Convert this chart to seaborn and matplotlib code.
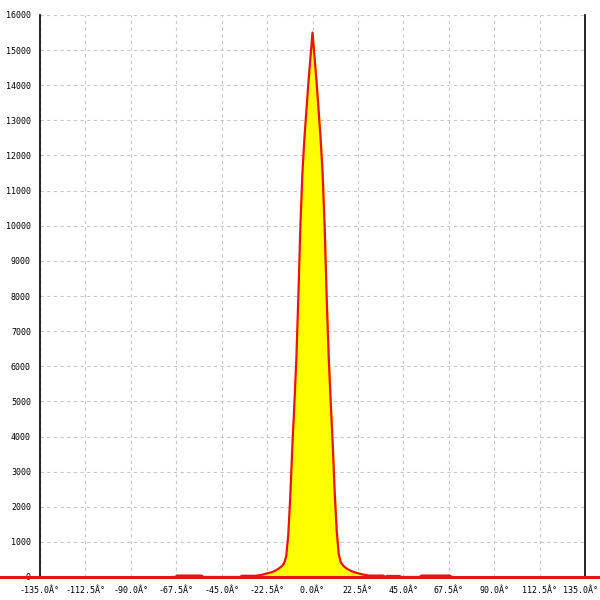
import numpy as np
import pandas as pd
import matplotlib
matplotlib.use("Agg")
import matplotlib.pyplot as plt
import matplotlib.transforms as mtransforms
import seaborn as sns

# angle bins (degrees) and counts
angles = list(range(-70, 71))
counts = (
    [0, 0, 0]                                   # -70..-68
    + [40] * 13                                 # -67..-55
    + [0] * 19                                  # -54..-36
    + [35] * 8                                  # -35..-28
    + [45, 55, 65, 80, 95, 110, 125, 140, 165, 195, 230, 270, 320, 400,
       600, 1200, 2300, 3700, 4900, 6200, 8000, 10000, 11500, 12500,
       13300, 14100, 14800]                     # -27..-1
    + [15500]                                   # 0
    + [14800, 14100, 13300, 12500, 11500, 10000, 8000, 6300, 5000, 3800,
       2400, 1300, 650, 420, 340, 280, 240, 205, 175, 150, 130, 115, 100,
       85, 70, 60, 50]                          # 1..27
    + [40] * 8                                  # 28..35
    + [0]                                       # 36
    + [30] * 7                                  # 37..43
    + [0] * 10                                  # 44..53
    + [40] * 15                                 # 54..68
    + [0, 0]                                    # 69..70
)
assert len(angles) == len(counts)

xticks = [-135.0, -112.5, -90.0, -67.5, -45.0, -22.5, 0.0, 22.5, 45.0,
          67.5, 90.0, 112.5, 135.0]
yticks = list(range(0, 16001, 1000))

df = pd.DataFrame({"angle": angles, "count": counts})

sns.set_style("white")
plt.rcParams['font.family'] = ['DejaVu Sans Mono']

fig = plt.figure(figsize=(6, 6), dpi=100)
ax = fig.add_axes([40 / 600, 23 / 600, 545 / 600, 562 / 600])

ax.fill_between(df["angle"], df["count"], color="#ffff00", zorder=2)
sns.lineplot(data=df, x="angle", y="count", color="#ee1111", lw=1.6,
             ax=ax, zorder=3)

# zero line running across the whole figure width
trans = mtransforms.blended_transform_factory(ax.transAxes, ax.transData)
ax.plot([-0.08, 1.03], [0, 0], color="#ee1111", lw=2.2, transform=trans,
        clip_on=False, zorder=4)

ax.set_xlim(-135, 135)
ax.set_ylim(0, 16000)
ax.set_xticks(xticks)
ax.set_xticklabels([f"{t:.1f}Â°" for t in xticks])
ax.set_yticks(yticks)
ax.set_yticklabels([str(t) for t in yticks])
ax.tick_params(direction="inout", length=9, width=1, labelsize=6,
               colors="black", pad=2)
ax.set_xlabel("")
ax.set_ylabel("")

# nudge the last x label so it stays inside the figure
last = ax.get_xticklabels()[-1]
last.set_transform(last.get_transform() +
                   mtransforms.ScaledTranslation(-4 / 100, 0, fig.dpi_scale_trans))

ax.grid(True, color="#c8c8c8", linestyle=(0, (3, 3)), lw=0.8, zorder=0)
for s in ["top", "bottom"]:
    ax.spines[s].set_visible(False)
for s in ["left", "right"]:
    ax.spines[s].set_color("black")
    ax.spines[s].set_linewidth(1.2)

fig.savefig("out.png", dpi=100)
